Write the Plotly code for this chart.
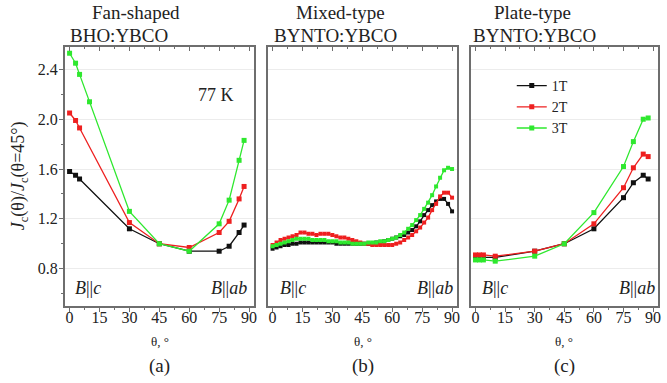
import plotly.graph_objects as go

# ---------------- data ----------------
fields = ["1T", "2T", "3T"]

# (a) Fan-shaped BHO:YBCO
theta_a_1T = [0, 3, 5, 30, 45, 60, 75, 80, 85, 87.5]
jc_a_1T = [1.58, 1.55, 1.52, 1.12, 1.00, 0.94, 0.94, 0.98, 1.09, 1.15]
theta_a_2T = [0, 3, 5, 30, 45, 60, 75, 80, 85, 87.5]
jc_a_2T = [2.05, 1.99, 1.93, 1.17, 1.00, 0.97, 1.09, 1.18, 1.36, 1.46]
theta_a_3T = [0, 3, 5, 10, 30, 45, 60, 75, 80, 85, 87.5]
jc_a_3T = [2.53, 2.45, 2.36, 2.14, 1.26, 1.00, 0.94, 1.16, 1.35, 1.67, 1.83]

# (b) Mixed-type BYNTO:YBCO
theta_b = [0, 2, 4, 6, 8, 10, 12, 14, 16, 18, 20, 22, 24, 26, 28, 30, 32, 34, 36, 38,
           40, 42, 44, 46, 48, 50, 52, 54, 56, 58, 60, 62, 64, 66, 68, 70, 72, 74, 76,
           78, 80, 82, 84, 86, 88, 90]
jc_b_1T = [0.96, 0.97, 0.98, 0.99, 0.99, 1.00, 1.00, 1.01, 1.01, 1.01, 1.01, 1.01, 1.01,
           1.01, 1.01, 1.01, 1.00, 1.00, 1.00, 1.00, 1.00, 1.00, 1.00, 1.00, 1.00, 1.00,
           1.01, 1.01, 1.02, 1.03, 1.04, 1.05, 1.06, 1.07, 1.09, 1.11, 1.14, 1.18, 1.23,
           1.27, 1.31, 1.34, 1.36, 1.36, 1.32, 1.26]
jc_b_2T = [0.99, 1.01, 1.03, 1.04, 1.05, 1.06, 1.07, 1.09, 1.09, 1.08, 1.08, 1.07, 1.08,
           1.08, 1.08, 1.07, 1.06, 1.05, 1.05, 1.04, 1.03, 1.02, 1.01, 1.00, 1.00, 0.99,
           0.99, 0.99, 0.99, 0.99, 0.99, 1.00, 1.01, 1.03, 1.05, 1.07, 1.10, 1.13, 1.17,
           1.21, 1.27, 1.32, 1.38, 1.41, 1.41, 1.37]
jc_b_3T = [0.98, 0.99, 1.00, 1.01, 1.02, 1.03, 1.04, 1.04, 1.04, 1.04, 1.03, 1.03, 1.03,
           1.03, 1.02, 1.02, 1.02, 1.01, 1.01, 1.01, 1.00, 1.00, 1.00, 1.00, 1.01, 1.01,
           1.01, 1.02, 1.02, 1.03, 1.04, 1.05, 1.07, 1.09, 1.12, 1.15, 1.19, 1.23, 1.28,
           1.33, 1.39, 1.46, 1.53, 1.59, 1.61, 1.60]

# (c) Plate-type BYNTO:YBCO
theta_c = [0, 2, 4, 10, 30, 45, 60, 75, 80, 85, 87.5]
jc_c_1T = [0.89, 0.89, 0.89, 0.89, 0.94, 1.00, 1.12, 1.37, 1.49, 1.55, 1.52]
jc_c_2T = [0.91, 0.91, 0.91, 0.90, 0.94, 1.00, 1.16, 1.45, 1.61, 1.72, 1.70]
jc_c_3T = [0.87, 0.87, 0.87, 0.86, 0.90, 1.00, 1.25, 1.62, 1.82, 2.00, 2.01]

panel_titles = [("Fan-shaped", "BHO:YBCO"), ("Mixed-type", "BYNTO:YBCO"), ("Plate-type", "BYNTO:YBCO")]
panel_letters = ["(a)", "(b)", "(c)"]
x_ticks = [0, 15, 30, 45, 60, 75, 90]
y_ticks = [0.8, 1.2, 1.6, 2.0, 2.4]
y_tick_text = ["0.8", "1.2", "1.6", "2.0", "2.4"]

# ---------------- styling ----------------
W, H = 667, 383
ML, MR, MT, MB = 65, 0, 47, 77
PW, PH = W - ML - MR, H - MT - MB
FONT = "Liberation Serif, Times New Roman, serif"
TXT = "#222222"
colors = {"1T": "#111111", "2T": "#ee2020", "3T": "#2ee82e"}
AX = "#6e6e6e"


def px(x):
    return (x - ML) / PW


def py(y):
    return (H - MB - y) / PH


domains = [[px(65), px(255)], [px(269), px(459)], [px(473), px(661)]]
xr = [-2.3, 92.5]
yr = [0.5, 2.58]

fig = go.Figure()

series = {
    0: [(theta_a_1T, jc_a_1T), (theta_a_2T, jc_a_2T), (theta_a_3T, jc_a_3T)],
    1: [(theta_b, jc_b_1T), (theta_b, jc_b_2T), (theta_b, jc_b_3T)],
    2: [(theta_c, jc_c_1T), (theta_c, jc_c_2T), (theta_c, jc_c_3T)],
}

for p in range(3):
    xa = "x" if p == 0 else f"x{p+1}"
    ya = "y" if p == 0 else f"y{p+1}"
    msize = 4 if p == 1 else 5
    for i, f in enumerate(fields):
        xs, ys = series[p][i]
        fig.add_trace(go.Scatter(
            x=xs, y=ys, mode="lines+markers", name=f,
            line=dict(color=colors[f], width=1.3),
            marker=dict(symbol="square", size=msize, color=colors[f]),
            xaxis=xa, yaxis=ya, showlegend=(p == 0), legendgroup=f,
        ))
    # dummy trace for the top-tick overlay axis
    fig.add_trace(go.Scatter(x=[None], y=[None], xaxis=f"x{p+4}", yaxis=ya,
                             showlegend=False, hoverinfo="skip"))

layout = dict(
    width=W, height=H,
    margin=dict(l=ML, r=MR, t=MT, b=MB),
    paper_bgcolor="white", plot_bgcolor="white",
    font=dict(family=FONT, size=14, color=TXT),
    legend=dict(x=px(514), y=py(70), xanchor="left", yanchor="top",
                bgcolor="rgba(0,0,0,0)", font=dict(family=FONT, size=14, color=TXT),
                tracegroupgap=0, itemwidth=30),
)

for p in range(3):
    xk = "xaxis" if p == 0 else f"xaxis{p+1}"
    yk = "yaxis" if p == 0 else f"yaxis{p+1}"
    ya = "y" if p == 0 else f"y{p+1}"
    layout[xk] = dict(
        domain=domains[p], range=xr, anchor=ya,
        tickmode="array", tickvals=x_ticks,
        ticks="outside", ticklen=4, tickwidth=1.2, tickcolor=AX,
        minor=dict(ticks="outside", ticklen=2, dtick=7.5, tick0=0, tickcolor=AX),
        showline=True, linecolor=AX, linewidth=2, mirror=True,
        showgrid=False, zeroline=False, ticklabeloverflow="allow",
        ticklabelstandoff=-8,
        tickfont=dict(family=FONT, size=16, color=TXT),
    )
    layout[f"xaxis{p+4}"] = dict(
        overlaying="x" if p == 0 else f"x{p+1}", side="top", anchor=ya,
        range=xr, tickmode="array", tickvals=x_ticks,
        ticks="inside", ticklen=4, tickwidth=1.2, tickcolor=AX,
        minor=dict(ticks="inside", ticklen=2, dtick=7.5, tick0=0, tickcolor=AX),
        showticklabels=False, showline=False, showgrid=False, zeroline=False,
    )
    ydict = dict(
        domain=[0, 1], range=yr, anchor="x" if p == 0 else f"x{p+1}",
        tickmode="array", tickvals=y_ticks, ticktext=y_tick_text,
        showgrid=True, gridcolor="#ececec", gridwidth=1,
        showline=True, linecolor=AX, linewidth=2, mirror=True,
        zeroline=False,
        tickfont=dict(family=FONT, size=16, color=TXT),
    )
    if p == 0:
        ydict.update(ticks="outside", ticklen=4, tickwidth=1.2, tickcolor=AX,
                     ticklabelstandoff=-2,
                     minor=dict(ticks="outside", ticklen=2, dtick=0.2, tick0=0.8,
                                tickcolor=AX, showgrid=False))
    else:
        ydict.update(ticks="", showticklabels=False)
    layout[yk] = ydict

ann = []


def add_text(text, x, y, size=16, angle=0):
    ann.append(dict(text=text, x=px(x), y=py(y), xref="paper", yref="paper",
                    showarrow=False, xanchor="center", yanchor="middle",
                    textangle=angle,
                    font=dict(family=FONT, size=size, color=TXT)))


title_pos = [((136, 12), (119, 35)), ((342, 12), (337, 35)), ((535, 12), (537, 35))]
for (t1, t2), ((x1, y1), (x2, y2)) in zip(panel_titles, title_pos):
    add_text(t1, x1, y1, 19)
    add_text(t2, x2, y2, 19)

centers = [160, 364, 567]
for c, lab in zip(centers, panel_letters):
    add_text("θ, °", c, 341, 13)
    add_text(lab, c, 366, 19)

bc_pos = [(88, 230), (294, 437), (497, 640)]
for xc, xab in bc_pos:
    add_text("<i>B</i>||<i>c</i>", xc, 288, 18)
    add_text("<i>B</i>||<i>ab</i>", xab, 288, 18)

add_text("77 K", 217, 95, 18)
add_text("<i>J</i><sub>c</sub>(θ)/<i>J</i><sub>c</sub>(θ=45°)", 19, 176, 18, angle=-90)

layout["annotations"] = ann
fig.update_layout(**layout)
fig.write_html("out.html",
               config={"displayModeBar": False},
               post_script="document.body.style.margin='0';document.body.style.padding='0';")
